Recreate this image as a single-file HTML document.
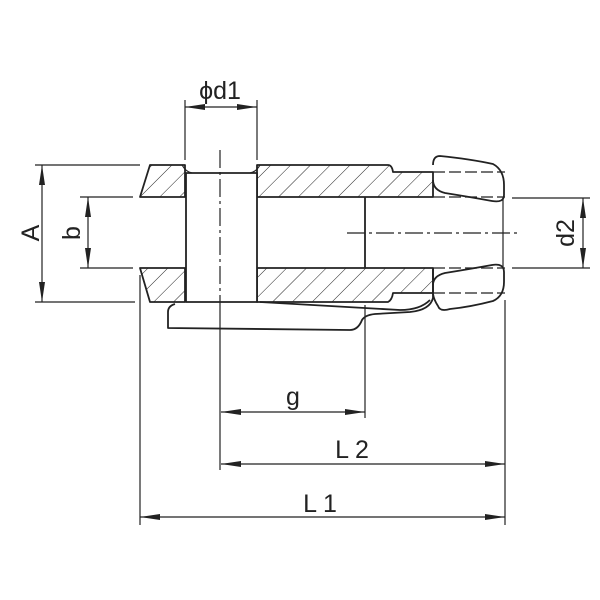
<!DOCTYPE html>
<html><head><style>html,body{margin:0;padding:0;background:#fff}svg{display:block}</style></head><body>
<svg width="600" height="600" viewBox="0 0 600 600" xmlns="http://www.w3.org/2000/svg">
<defs>
<pattern id="h" patternUnits="userSpaceOnUse" width="14" height="14" patternTransform="rotate(45)">
<line x1="0" y1="0" x2="0" y2="14" stroke="#222" stroke-width="1"/>
</pattern>
<marker id="a" viewBox="0 0 20 6" refX="20" refY="3" markerWidth="20" markerHeight="6" markerUnits="userSpaceOnUse" orient="auto-start-reverse"><path d="M0,0 L20,3 L0,6 z" fill="#222"/></marker>
</defs>
<g fill="none" stroke="#222" stroke-width="1.8" stroke-linejoin="round">
<path d="M150,165 L185,165 L185,197 L140,197 Z" fill="url(#h)"/>
<path d="M257,165 L388,165 Q392,165 393,172 L433,172 L433,197 L257,197 Z" fill="url(#h)"/>
<path d="M140,268 L185,268 L185,302 L150,302 Z" fill="url(#h)"/>
<path d="M257,268 L433,268 L433,293 L393,293 Q392,300 388,302 L257,302 Z" fill="url(#h)"/>
<path d="M365,197 L365,268" />
<rect x="186" y="173" width="71" height="129" fill="#fff"/>
<path d="M182,165 Q186,172 192,173 M260,165 Q256,172 250,173" stroke-width="1.2"/>
<path d="M175,304 Q168,306 168,312 L168,328 L350,330 Q358,330 362,320 Q365,315 375,314 L410,312 Q430,310 433,298 L433,268"/>
<path d="M260,302 L400,310 Q420,310 430,300"/>
<path d="M433,165 Q433,156 440,156 Q470,159 493,164 Q504,170 504,185 L504,195 Q504,203 492,201 Q470,197 445,193 Q433,190 433,180"/>
<path d="M433,285 Q433,276 445,273 Q470,269 492,265 Q504,263 504,272 L504,282 Q504,296 493,301 Q470,307 450,309 Q440,312 438,306 Q434,300 433,294"/>
<path d="M503,197 L503,268" stroke-width="1.2"/>
</g>
<g fill="none" stroke="#222" stroke-width="1.2">
<path d="M433,172 L505,172 M433,197 L505,197 M433,268 L505,268 M433,293 L505,293" stroke-dasharray="12,4"/>
<path d="M220,150 L220,310" stroke-dasharray="18,4,3,4"/>
<path d="M347,233 L520,233" stroke-dasharray="18,4,3,4"/>
<path d="M185,100 L185,160 M257,100 L257,160"/>
<path d="M35,165 L140,165 M35,302 L135,302 M80,197 L133,197 M80,268 L133,268"/>
<path d="M512,198 L590,198 M512,268 L590,268"/>
<path d="M140,275 L140,525 M220,310 L220,470 M365,305 L365,418 M505,300 L505,525"/>
<line x1="185" y1="107" x2="257" y2="107" marker-start="url(#a)" marker-end="url(#a)"/>
<line x1="42" y1="165" x2="42" y2="302" marker-start="url(#a)" marker-end="url(#a)"/>
<line x1="88" y1="197" x2="88" y2="268" marker-start="url(#a)" marker-end="url(#a)"/>
<line x1="583" y1="198" x2="583" y2="268" marker-start="url(#a)" marker-end="url(#a)"/>
<line x1="221" y1="412" x2="365" y2="412" marker-start="url(#a)" marker-end="url(#a)"/>
<line x1="221" y1="464" x2="505" y2="464" marker-start="url(#a)" marker-end="url(#a)"/>
<line x1="140" y1="517" x2="505" y2="517" marker-start="url(#a)" marker-end="url(#a)"/>
</g>
<g font-family="Liberation Sans, DejaVu Sans, sans-serif" font-size="25" fill="#222">
<text x="220" y="99" text-anchor="middle">ϕd1</text>
<text x="293" y="405" text-anchor="middle">g</text>
<text x="352" y="458" text-anchor="middle">L 2</text>
<text x="320" y="512" text-anchor="middle">L 1</text>
<text transform="translate(39,233) rotate(-90)" text-anchor="middle">A</text>
<text transform="translate(80,233) rotate(-90)" text-anchor="middle">b</text>
<text transform="translate(574,233) rotate(-90)" text-anchor="middle">d2</text>
</g>
</svg>
</body></html>
